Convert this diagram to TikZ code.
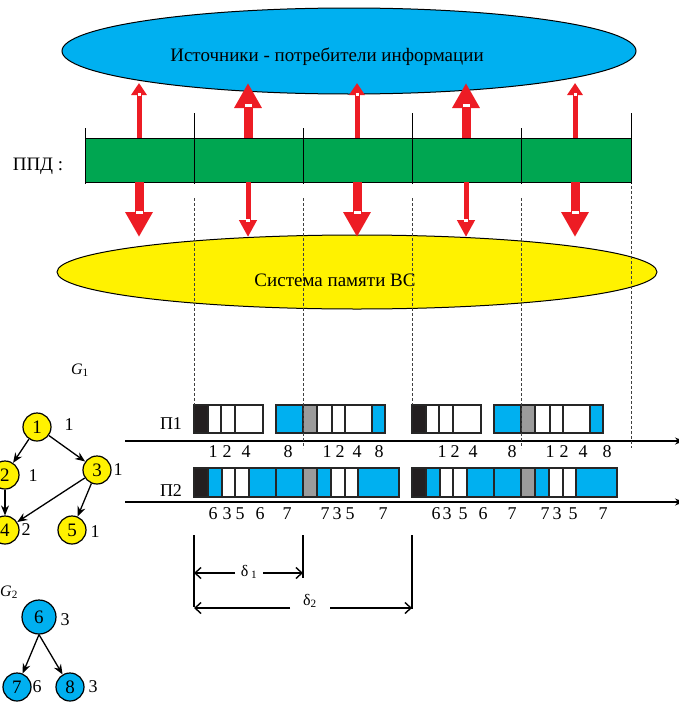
\documentclass[tikz,border=0pt]{standalone}
\usepackage{fontspec}
\setmainfont{Liberation Serif}
\usetikzlibrary{arrows.meta}
\definecolor{srcblue}{RGB}{0,176,240}
\definecolor{ppdgreen}{RGB}{0,166,81}
\definecolor{memyellow}{RGB}{255,242,0}
\definecolor{arrred}{RGB}{237,28,36}
\definecolor{cellblack}{RGB}{35,31,32}
\definecolor{cellgray}{RGB}{155,155,155}

\begin{document}
\begin{tikzpicture}[x=1pt,y=-1pt,
  txt/.style={font=\fontsize{19}{22}\selectfont},
  num/.style={font=\fontsize{18}{20}\selectfont, inner sep=0pt},
  cell/.style={draw=black!85, line width=1.4pt},
  thinup/.style={arrred, line width=5pt, -{Triangle[width=15pt,length=12pt]}},
  thickup/.style={arrred, line width=9pt, -{Triangle[width=26pt,length=25pt]}},
  thindown/.style={arrred, line width=5pt, -{Triangle[width=17pt,length=17pt]}},
  guide/.style={black!75, line width=0.6pt, dash pattern=on 3pt off 2pt},
  vnode/.style={circle, draw, line width=1.2pt, minimum size=28pt, inner sep=0pt, font=\fontsize{19}{22}\selectfont},
  edge/.style={line width=1.3pt, -{Stealth[length=10pt,width=8pt]}},
  axis/.style={line width=1.5pt, -{Stealth[length=9pt,width=7pt]}},
  dim/.style={line width=1.4pt, -{Straight Barb[length=6pt,width=11pt]}}
]
\useasboundingbox (0,0) rectangle (678,704);

% sources / consumers
\draw[fill=srcblue, line width=1pt] (349,51) ellipse [x radius=287, y radius=43];
\node[txt] (src) at (327,57) {Источники - потребители информации};

% memory system
\draw[fill=memyellow, line width=1pt] (357,272) ellipse [x radius=300, y radius=37];
\node[txt] (mem) at (335,280) {Система памяти ВС};

% PPD bar
\node[txt] (ppd) at (38,166) {ППД :};
\draw[fill=ppdgreen, line width=0.8pt] (85,138) rectangle (631,182);
\foreach \x in {85,303,521} {
    \draw[line width=0.8pt] (\x,128) -- (\x,184);
}
\foreach \x in {194,412,631} {
    \draw[line width=0.8pt] (\x,113) -- (\x,184);
}

% arrows up
\foreach \x in {139,357,575} {
    \draw[thinup] (\x,138) -- (\x,83);
    \fill[white] (\x-1.5,92.5) rectangle ++(3,3);
}
\foreach \x in {248,466} {
    \draw[thickup] (\x,138) -- (\x,83);
    \fill[white] (\x-3.5,104) rectangle ++(7,3);
}
% arrows down
\foreach \x in {139,357,575} {
    \draw[thickup] (\x,182) -- (\x,237);
    \fill[white] (\x-3.5,211) rectangle ++(7,3);
}
\foreach \x in {248,466} {
    \draw[thindown] (\x,182) -- (\x,237);
    \fill[white] (\x-2,219) rectangle ++(4,3);
}

% time axes
\node[num] (p1) at (171,424) {П1};
\node[num] (p2) at (171,491) {П2};
\draw[axis] (125,441) -- (684,441);
\draw[axis] (125,502) -- (684,502);

\foreach \s in {0,218} {
\begin{scope}[xshift=\s]
\foreach \a/\b/\c in {194/208/cellblack,208/221/white,221/235/white,235/263/white,
    276/303/srcblue,303/317/cellgray,317/332/white,332/345/white,345/372/white,372/385/srcblue} {
    \draw[cell, fill=\c] (\a,405) rectangle (\b,433);
}
\foreach \a/\b/\c in {194/208/cellblack,208/222/srcblue,222/235/white,235/249/white,249/276/srcblue,
    276/303/srcblue,303/317/cellgray,317/331/srcblue,331/345/white,345/358/white,358/399/srcblue} {
    \draw[cell, fill=\c] (\a,468) rectangle (\b,497);
}
\end{scope}
}
\foreach \x/\t in {213/1,227/2,246/4,288/8,327/1,340/2,357/4,379/8,
    442/1,455/2,473/4,512/8,550/1,564/2,583/4,607/8} {
    \node[num] (a\x) at (\x,452) {\t};
}
\foreach \x/\t in {213/6,227/3,240/5,260/6,287/7,325/7,337/3,350/5,383/7,
    436/6,447/3,463/5,483/6,512/7,545/7,557/3,573/5,603/7} {
    \node[num] (b\x) at (\x,514) {\t};
}

% guide lines
\draw[guide] (194,198) -- (194,405);
\draw[guide] (303,198) -- (303,448);
\draw[guide] (412,198) -- (412,405);
\draw[guide] (521,198) -- (521,448);
\draw[guide] (631,186) -- (631,448);

% graph G1
\node[font=\fontsize{16}{18}\selectfont] (g1) at (80,370) {\textit{G}\textsubscript{1}};
\node[vnode, fill=memyellow] (n1) at (37,427) {1};
\node[vnode, fill=memyellow] (n2) at (5,475) {2};
\node[vnode, fill=memyellow] (n3) at (97,470) {3};
\node[vnode, fill=memyellow] (n4) at (5,530) {4};
\node[vnode, fill=memyellow] (n5) at (72,530) {5};
\node[num] (w1) at (69,425) {1};
\node[num] (w2) at (33,476) {1};
\node[num] (w3) at (118,470) {1};
\node[num] (w4) at (26,530) {2};
\node[num] (w5) at (95,532) {1};
\draw[edge] (n1) -- (n2);
\draw[edge] (n1) -- (n3);
\draw[edge] (n2) -- (n4);
\draw[edge] (n3) -- (n4);
\draw[edge] (n3) -- (n5);

% graph G2
\node[font=\fontsize{16}{18}\selectfont, anchor=west, inner sep=0pt] (g2) at (0,592) {\textit{G}\textsubscript{2}};
\node[vnode, fill=srcblue, minimum size=34pt] (n6) at (39,617) {6};
\node[vnode, fill=srcblue] (n7) at (17,687) {7};
\node[vnode, fill=srcblue] (n8) at (70,687) {8};
\node[num] (w6) at (65,620) {3};
\node[num] (w7) at (37,687) {6};
\node[num] (w8) at (93,687) {3};
\draw[edge] (n6.south) -- (n7);
\draw[edge] (n6.south) -- (n8);

% delta
\draw[line width=1.4pt] (194,535) -- (194,607);
\draw[line width=1.4pt] (303,535) -- (303,578);
\draw[line width=1.4pt] (412,535) -- (412,609);
\node[font=\fontsize{16}{18}\selectfont] (d1) at (249,572) {δ\,\textsubscript{1}};
\node[font=\fontsize{16}{18}\selectfont] (d2) at (310,601) {δ\textsubscript{2}};
\coordinate (d1a) at (235,573);
\coordinate (d1b) at (263,573);
\coordinate (d1l) at (194,573);
\coordinate (d1r) at (303,573);
\coordinate (d2a) at (290,608);
\coordinate (d2b) at (330,608);
\coordinate (d2l) at (194,608);
\coordinate (d2r) at (412,608);
\draw[dim] (d1a) -- (d1l);
\draw[dim] (d1b) -- (d1r);
\draw[dim] (d2a) -- (d2l);
\draw[dim] (d2b) -- (d2r);
\end{tikzpicture}
\end{document}
